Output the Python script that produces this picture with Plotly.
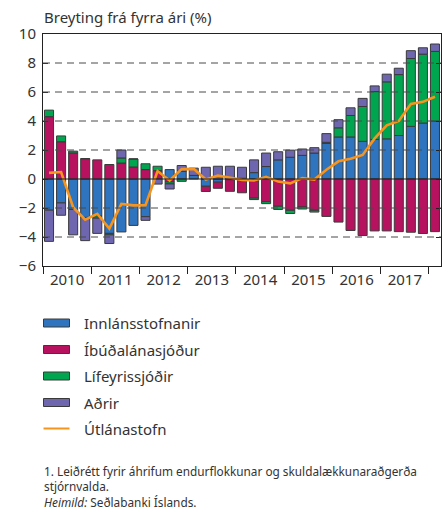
import plotly.graph_objects as go

# Quarters 2010 Q1 .. 2018 Q1
quarters = [f"{y}F{q}" for y in range(2010, 2018) for q in range(1, 5)] + ["2018F1"]
year_labels = ["2010", "2011", "2012", "2013", "2014", "2015", "2016", "2017"]

innlansstofnanir = [-2.15, -1.65, -2.1, -2.65, -2.55, -3.75, -3.65, -3.2, -2.6, 0.0, 0.65,
                    0.53, 0.25, -0.5, -0.22, -0.05, 0.05, 0.44, 0.86, 1.32, 1.5, 1.63,
                    1.79, 2.45, 2.9, 2.9, 2.6, 2.73, 2.77, 3.0, 3.63, 3.86, 4.0]
ibudalanasjodur = [4.3, 2.57, 1.8, 1.4, 1.32, 1.0, 1.1, 0.83, 0.65, 0.58, -0.2,
                   0.0, 0.0, -0.36, -0.42, -0.8, -0.95, -1.32, -1.56, -1.88, -2.16, -1.93,
                   -2.16, -2.58, -2.97, -3.55, -3.9, -3.58, -3.58, -3.63, -3.67, -3.76, -3.63]
lifeyrissjodir = [0.45, 0.4, 0.12, 0.0, -0.15, -0.1, 0.35, 0.55, 0.4, 0.3, -0.14,
                  -0.16, 0.0, 0.0, 0.0, 0.0, 0.0, -0.1, -0.14, -0.22, -0.22, -0.14,
                  -0.12, 0.08, 0.63, 1.48, 2.4, 3.3, 3.93, 4.2, 4.68, 4.75, 4.8]
adrir = [-2.15, -0.85, -1.75, -1.6, -1.05, -0.6, 0.55, 0.0, -0.25, -0.35, -0.35,
         0.4, 0.5, 0.81, 0.88, 0.88, 0.76, 0.88, 0.93, 0.56, 0.49, 0.44,
         0.37, 0.6, 0.56, 0.53, 0.56, 0.39, 0.53, 0.44, 0.54, 0.44, 0.51]
utlanastofn = [0.42, 0.48, -1.95, -2.8, -2.4, -3.42, -1.72, -1.82, -1.8, 0.55, -0.1,
               0.68, 0.7, -0.03, 0.24, 0.1, -0.06, -0.1, 0.15, -0.18, -0.3, 0.06,
               -0.04, 0.64, 1.22, 1.4, 1.66, 2.8, 3.7, 4.0, 5.18, 5.32, 5.67]

series = [
    ("Innlánsstofnanir", innlansstofnanir, "#2E74BE"),
    ("Íbúðalánasjóður", ibudalanasjodur, "#B7125F"),
    ("Lífeyrissjóðir", lifeyrissjodir, "#00A54F"),
    ("Aðrir", adrir, "#6E67B0"),
]
line_name = "Útlánastofn"
line_color = "#F7941D"

FONT = "Noto Sans, sans-serif"
TXT = "#333333"

W, H = 447, 509
L, R, T, B = 43, 441, 34, 266  # plot area in pixels
YMIN, YMAX = -6, 10

x = list(range(len(quarters)))

fig = go.Figure()
for name, vals, col in series:
    fig.add_trace(go.Bar(
        x=x, y=vals, name=name, marker_color=col,
        marker_line=dict(color="#3a3a3a", width=1),
        customdata=quarters, hovertemplate="%{customdata}: %{y}<extra>" + name + "</extra>",
        showlegend=False,
    ))
fig.add_trace(go.Scatter(
    x=x, y=utlanastofn, name=line_name, mode="lines",
    line=dict(color=line_color, width=2.6),
    customdata=quarters, hovertemplate="%{customdata}: %{y}<extra>" + line_name + "</extra>",
    showlegend=False,
))


def px_x(p):
    return (p - L) / (R - L)


def px_y(p):
    return (B - p) / (B - T)


shapes = []
# dashed reference lines, drawn over the bars
for v in [-4, -2, 2, 4, 6, 8]:
    shapes.append(dict(type="line", xref="paper", yref="y", x0=0, x1=1, y0=v, y1=v,
                       line=dict(color="#4a4a4a", width=1, dash="7px,5px"), layer="above"))
shapes.append(dict(type="line", xref="paper", yref="y", x0=0, x1=1, y0=0, y1=0,
                   line=dict(color="#222222", width=1), layer="above"))

annotations = [dict(text="Breyting frá fyrra ári (%)", xref="paper", yref="paper",
                    x=px_x(42), y=px_y(17), xanchor="left", yanchor="middle",
                    showarrow=False, font=dict(family=FONT, size=15, color=TXT))]

# legend block below the chart
legend_rows = [323, 349.5, 376, 402.5, 428.5]
for (name, _, col), yy in zip(series, legend_rows):
    shapes.append(dict(type="rect", xref="paper", yref="paper",
                       x0=px_x(43.5), x1=px_x(69.5), y0=px_y(yy - 4), y1=px_y(yy + 4),
                       fillcolor=col, line=dict(color="#3a3a3a", width=1)))
    annotations.append(dict(text=name, xref="paper", yref="paper", x=px_x(82), y=px_y(yy),
                            xanchor="left", yanchor="middle", showarrow=False,
                            font=dict(family=FONT, size=15, color=TXT)))
shapes.append(dict(type="line", xref="paper", yref="paper",
                   x0=px_x(43.5), x1=px_x(69.5), y0=px_y(legend_rows[4]), y1=px_y(legend_rows[4]),
                   line=dict(color=line_color, width=2)))
annotations.append(dict(text=line_name, xref="paper", yref="paper", x=px_x(82), y=px_y(legend_rows[4]),
                        xanchor="left", yanchor="middle", showarrow=False,
                        font=dict(family=FONT, size=15, color=TXT)))

# footnote and source as one left-aligned block
note_text = ("1. Leiðrétt fyrir áhrifum endurflokkunar og skuldalækkunaraðgerða<br>"
             "stjórnvalda.<br>"
             "<i>Heimild:</i> Seðlabanki Íslands.")
annotations.append(dict(text=note_text, xref="paper", yref="paper", x=px_x(42), y=px_y(460.5),
                        xanchor="left", yanchor="top", align="left", showarrow=False,
                        font=dict(family=FONT, size=11.8, color=TXT)))

fig.update_layout(
    width=W, height=H,
    margin=dict(l=L, r=W - R, t=T, b=H - B, pad=0),
    paper_bgcolor="white", plot_bgcolor="white",
    barmode="relative", bargap=0.25,
    showlegend=False,
    font=dict(family=FONT, size=15, color=TXT),
    shapes=shapes, annotations=annotations,
    xaxis=dict(
        range=[-0.5, len(quarters) - 0.5],
        tickmode="array",
        tickvals=[1.5 + 4 * i for i in range(len(year_labels))],
        ticktext=year_labels,
        ticks="", showgrid=False, zeroline=False,
        showline=True, linecolor="#222222", linewidth=1, mirror=True,
        minor=dict(tick0=-0.5, dtick=4, ticks="outside", ticklen=7,
                   tickcolor="#222222", tickwidth=1, showgrid=False),
        tickfont=dict(family=FONT, size=15, color=TXT),
        fixedrange=True,
    ),
    yaxis=dict(
        range=[YMIN, YMAX],
        tickmode="array", tickvals=list(range(YMIN, YMAX + 1, 2)),
        ticks="inside", ticklen=5, tickcolor="#222222",
        ticklabelstandoff=3,
        showgrid=False, zeroline=False,
        showline=True, linecolor="#222222", linewidth=1, mirror="ticks",
        tickfont=dict(family=FONT, size=15, color=TXT),
        fixedrange=True,
    ),
)

fig.write_html("out.html")
